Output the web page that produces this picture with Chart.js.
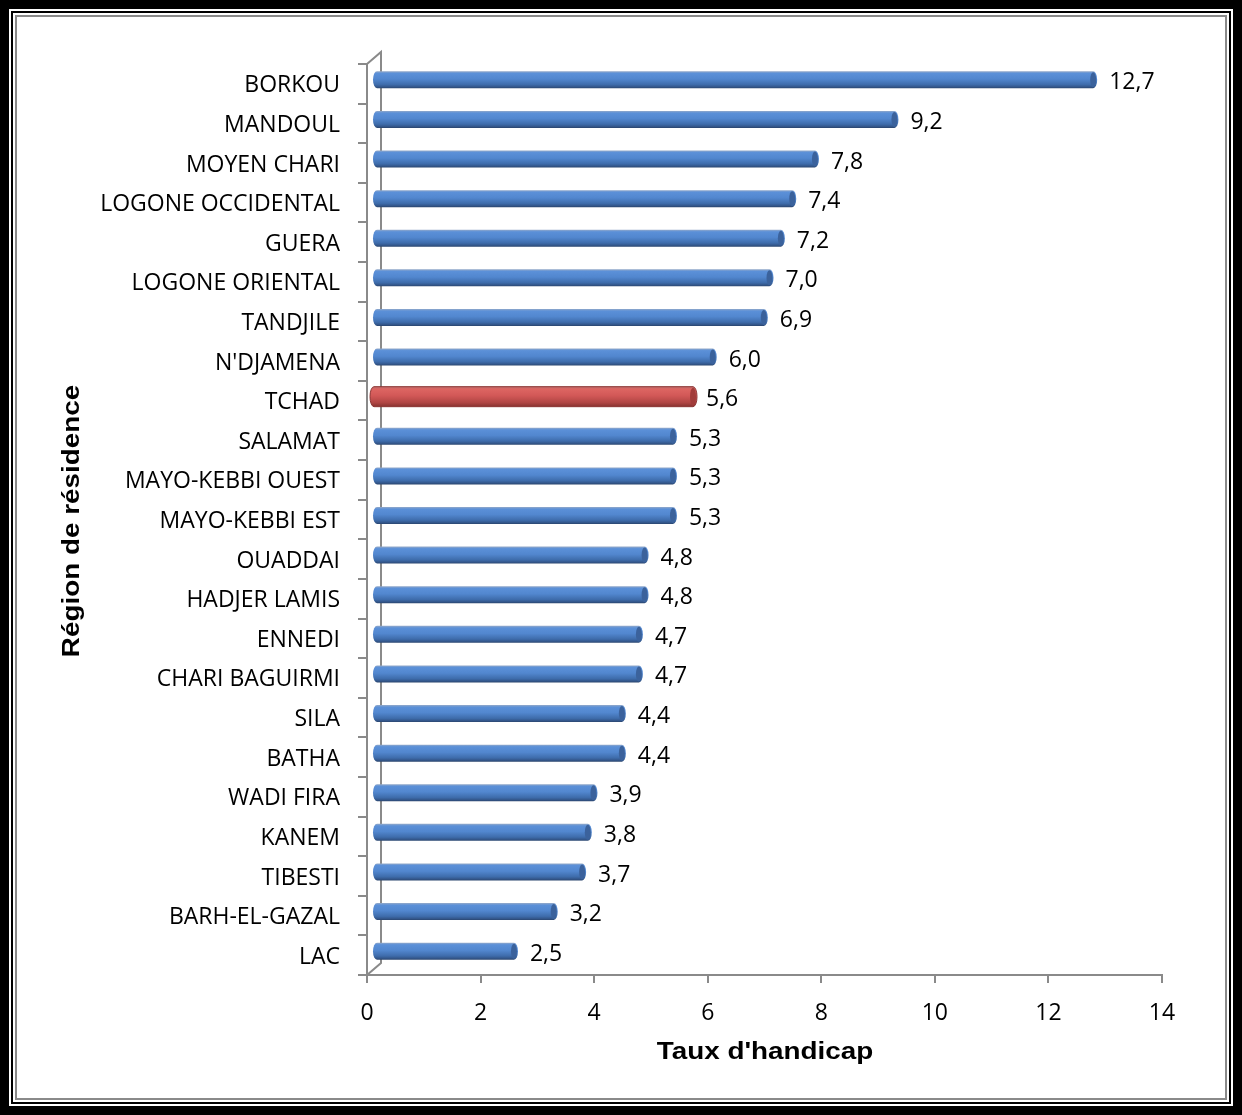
<!DOCTYPE html>
<html>
<head>
<meta charset="utf-8">
<script src="https://cdn.jsdelivr.net/npm/chart.js@4.4.0/dist/chart.umd.min.js"></script>
<style>
  html, body { margin: 0; padding: 0; background: #fff; }
  canvas { display: block; }
</style>
</head>
<body>
<canvas id="myChart" width="1242" height="1115"></canvas>
<script>
// data
var regions = ['BORKOU', 'MANDOUL', 'MOYEN CHARI', 'LOGONE OCCIDENTAL', 'GUERA',
  'LOGONE ORIENTAL', 'TANDJILE', "N'DJAMENA", 'TCHAD', 'SALAMAT', 'MAYO-KEBBI OUEST',
  'MAYO-KEBBI EST', 'OUADDAI', 'HADJER LAMIS', 'ENNEDI', 'CHARI BAGUIRMI', 'SILA',
  'BATHA', 'WADI FIRA', 'KANEM', 'TIBESTI', 'BARH-EL-GAZAL', 'LAC'];
var taux = [12.7, 9.2, 7.8, 7.4, 7.2, 7.0, 6.9, 6.0, 5.6, 5.3, 5.3, 5.3, 4.8, 4.8,
  4.7, 4.7, 4.4, 4.4, 3.9, 3.8, 3.7, 3.2, 2.5];
var xTicks = [0, 2, 4, 6, 8, 10, 12, 14];
var highlight = 'TCHAD';

var xTitle = "Taux d'handicap";
var yTitle = 'Région de résidence';

var blueStops = [[0, '#93a9c9'], [0.12, '#5b90d8'], [0.45, '#5287cf'], [0.78, '#3e6cab'], [0.92, '#33568a'], [1, '#2a456d']];
var redStops = [[0, '#b86c6b'], [0.12, '#dd6562'], [0.45, '#d25857'], [0.8, '#b04543'], [1, '#873230']];

function fmt(v) { return v.toFixed(1).replace('.', ','); }

function cylinder(ctx, x0, x1, yc, h, stops, capColor, edge) {
  var rx = 4;
  var g = ctx.createLinearGradient(0, yc - h, 0, yc + h);
  stops.forEach(function (s) { g.addColorStop(s[0], s[1]); });
  ctx.beginPath();
  ctx.moveTo(x0, yc - h);
  ctx.lineTo(x1, yc - h);
  ctx.ellipse(x1, yc, rx, h, 0, -Math.PI / 2, Math.PI / 2, false);
  ctx.lineTo(x0, yc + h);
  ctx.ellipse(x0, yc, rx, h, 0, Math.PI / 2, Math.PI * 1.5, false);
  ctx.closePath();
  ctx.fillStyle = g;
  ctx.fill();
  if (edge) {
    ctx.strokeStyle = edge;
    ctx.lineWidth = 1;
    ctx.stroke();
  }
  // end cap
  ctx.beginPath();
  ctx.ellipse(x1, yc, rx - 1, h - 1, 0, 0, Math.PI * 2);
  ctx.fillStyle = capColor;
  ctx.fill();
}

var framePlugin = {
  id: 'frame',
  beforeDraw: function (chart) {
    var ctx = chart.ctx, W = chart.width, H = chart.height;
    ctx.save();
    ctx.fillStyle = '#000';
    ctx.fillRect(0, 0, W, H);
    ctx.fillStyle = '#fff';
    ctx.fillRect(9, 9, W - 18, H - 18);
    ctx.strokeStyle = '#000';
    ctx.lineWidth = 2;
    ctx.strokeRect(12, 12, W - 24, H - 24);
    ctx.strokeStyle = '#8a8a8a';
    ctx.strokeRect(16, 16, W - 32, H - 32);
    ctx.restore();
  },
  beforeDatasetsDraw: function (chart) {
    // back wall of the 3D plot
    var ctx = chart.ctx, a = chart.chartArea, d = 14, up = 12;
    ctx.save();
    ctx.strokeStyle = '#8a8a8a';
    ctx.lineWidth = 2;
    ctx.beginPath();
    ctx.moveTo(a.left, a.top);
    ctx.lineTo(a.left + d, a.top - up);
    ctx.lineTo(a.left + d, a.bottom - up);
    ctx.lineTo(a.left, a.bottom);
    ctx.stroke();
    ctx.restore();
  },
  afterDatasetsDraw: function (chart) {
    var ctx = chart.ctx;
    var meta = chart.getDatasetMeta(0);
    ctx.save();
    meta.data.forEach(function (el, i) {
      var red = regions[i] === highlight;
      var yc = el.y - 4;
      if (red) {
        cylinder(ctx, el.base + 6, el.x + 8, yc, 10, redStops, '#a13c3a', '#8b3432');
      } else {
        cylinder(ctx, el.base + 9, el.x + 5, yc, 8.5, blueStops, '#3b629c', null);
      }
      ctx.fillStyle = '#000';
      ctx.font = '23px "Open Sans"';
      ctx.textAlign = 'left';
      ctx.textBaseline = 'middle';
      ctx.fillText(fmt(taux[i]), el.x + 21, el.y - 1);
    });
    ctx.restore();
  },
  afterDraw: function (chart) {
    var ctx = chart.ctx;
    ctx.save();
    ctx.fillStyle = '#000';
    ctx.font = 'bold 24px "Liberation Sans"';
    ctx.textAlign = 'center';
    ctx.textBaseline = 'middle';
    ctx.translate(765, 1052);
    ctx.scale(1.16, 1);
    ctx.fillText(xTitle, 0, 0);
    ctx.restore();
    ctx.save();
    ctx.fillStyle = '#000';
    ctx.font = 'bold 24px "Liberation Sans"';
    ctx.textAlign = 'center';
    ctx.textBaseline = 'middle';
    ctx.translate(72, 521);
    ctx.rotate(-Math.PI / 2);
    ctx.scale(1.16, 1);
    ctx.fillText(yTitle, 0, 0);
    ctx.restore();
  }
};

var ctx = document.getElementById('myChart');
new Chart(ctx, {
  type: 'bar',
  data: {
    labels: regions,
    datasets: [{
      label: xTitle,
      data: taux,
      backgroundColor: 'rgba(0,0,0,0)',
      borderWidth: 0,
      barThickness: 16
    }]
  },
  options: {
    indexAxis: 'y',
    responsive: false,
    animation: false,
    devicePixelRatio: 1,
    layout: { padding: { top: 64, right: 80, left: 0, bottom: 0 } },
    plugins: {
      legend: { display: false },
      tooltip: { enabled: false }
    },
    scales: {
      x: {
        min: 0,
        max: 14,
        afterFit: function (s) { s.height = 140; },
        afterBuildTicks: function (s) { s.ticks = xTicks.map(function (v) { return { value: v }; }); },
        grid: { drawOnChartArea: false, drawTicks: true, tickLength: 8, color: '#8a8a8a', lineWidth: 2 },
        border: { color: '#8a8a8a', width: 2 },
        ticks: { color: '#000', font: { family: 'Open Sans', size: 23 }, padding: 17 }
      },
      y: {
        afterFit: function (s) { s.width = 367; },
        grid: { drawOnChartArea: false, drawTicks: true, tickLength: 9, color: '#8a8a8a', lineWidth: 2, offset: true },
        border: { color: '#8a8a8a', width: 2 },
        ticks: { color: '#000', font: { family: 'Open Sans', size: 23 }, padding: 18, autoSkip: false, labelOffset: 2 }
      }
    }
  },
  plugins: [framePlugin]
});
</script>
</body>
</html>
